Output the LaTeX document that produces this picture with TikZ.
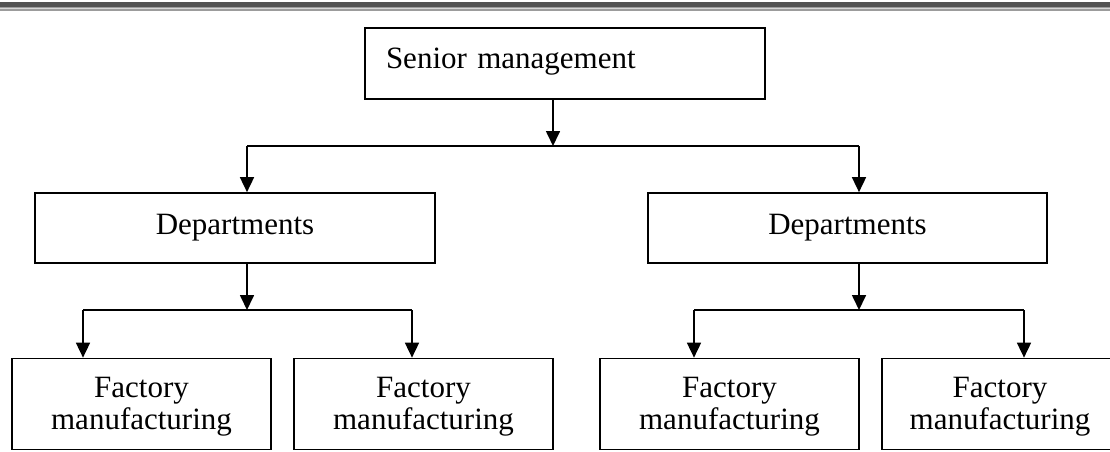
\documentclass[tikz,border=0pt]{standalone}
\usepackage{fontspec}
\setmainfont{Liberation Serif}
\usetikzlibrary{arrows.meta}

\definecolor{banddark}{HTML}{525252}
\definecolor{bandgray}{HTML}{9C9C9C}
\definecolor{bandlight}{HTML}{D6D6D6}

\begin{document}
\begin{tikzpicture}[x=1pt, y=-1pt, line width=1.7pt,
	box/.style={rectangle, draw, line width=1.7pt, inner sep=0pt, font=\fontsize{31}{32}\selectfont},
	factory/.style={box, minimum height=91pt, align=center, text height=58pt},
	tip/.style={-{Triangle[width=14pt,length=15pt]}}]
\clip (0,0) rectangle (1110,452);
% header band
\fill[banddark] (0,2.5) rectangle (1110,7);
\fill[bandgray] (0,7) rectangle (1110,11.5);
\fill[bandlight] (0,8) rectangle (1110,9.5);

\node (senior) at (565,63.5) [box, text width=358pt, align=left, inner xsep=21pt, text height=41pt, text depth=30pt] {Senior management};
	\node (dep1) at (235,228) [box, minimum width=400pt, minimum height=70pt] {Departments};
		\node (fac1) at (141.5,404) [factory, minimum width=259pt] {Factory\\manufacturing};
		\node (fac2) at (423.5,404) [factory, minimum width=259pt] {Factory\\manufacturing};
	\node (dep2) at (847.5,228) [box, minimum width=399pt, minimum height=70pt] {Departments};
		\node (fac3) at (729.5,404) [factory, minimum width=259pt] {Factory\\manufacturing};
		\node (fac4) at (1000,404) [factory, minimum width=236pt] {Factory\\manufacturing};

% branch points
\coordinate (top) at (553,146);
\coordinate (t1) at (247,146);
\coordinate (t2) at (859,146);
\coordinate (l) at (247,310);
\coordinate (l1) at (83,310);
\coordinate (l2) at (412,310);
\coordinate (r) at (859,310);
\coordinate (r1) at (694,310);
\coordinate (r2) at (1024,310);

\draw[tip] (senior.south -| top) -- (top);
\draw (t1) -- (t2);
\draw[tip] (t1) -- (t1 |- dep1.north);
\draw[tip] (t2) -- (t2 |- dep2.north);

\draw[tip] (dep1.south -| l) -- (l);
\draw (l1) -- (l2);
\draw[tip] (l1) -- (l1 |- fac1.north);
\draw[tip] (l2) -- (l2 |- fac2.north);

\draw[tip] (dep2.south -| r) -- (r);
\draw (r1) -- (r2);
\draw[tip] (r1) -- (r1 |- fac3.north);
\draw[tip] (r2) -- (r2 |- fac4.north);
\end{tikzpicture}
\end{document}
